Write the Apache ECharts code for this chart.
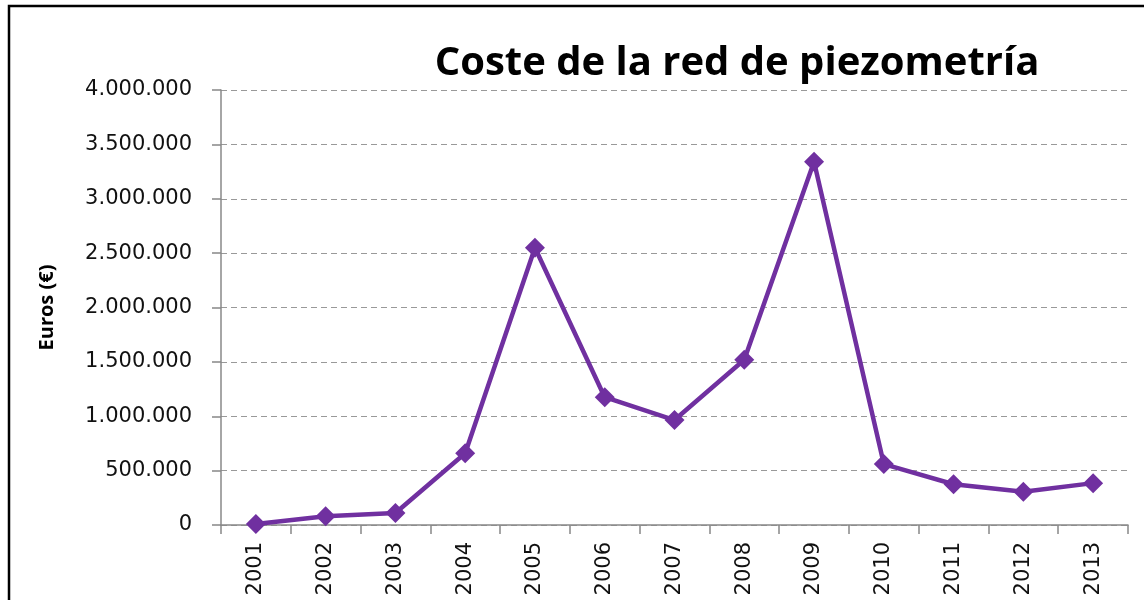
<!DOCTYPE html>
<html>
<head>
<meta charset="utf-8">
<script src="https://cdn.jsdelivr.net/npm/echarts@6/dist/echarts.min.js"></script>
<style>
  html, body { margin: 0; padding: 0; background: #fff; }
  #chart { width: 1144px; height: 600px; }
</style>
</head>
<body>
<div id="chart"></div>
<script>
// años y coste anual (euros)
const years = ['2001', '2002', '2003', '2004', '2005', '2006', '2007', '2008', '2009', '2010', '2011', '2012', '2013'];
const coste = [10000, 80000, 110000, 660000, 2550000, 1175000, 965000, 1520000, 3340000, 560000, 375000, 305000, 385000];

function puntos(v) {
  return String(v).replace(/\B(?=(\d{3})+(?!\d))/g, '.');
}

const chart = echarts.init(document.getElementById('chart'));

const option = {
  animation: false,
  title: {
    text: 'Coste de la red de piezometría',
    left: 732,
    textAlign: 'center',
    top: 39,
    textStyle: {
      fontFamily: 'Open Sans',
      fontWeight: 'bold',
      fontSize: 40,
      color: '#000'
    }
  },
  graphic: [
    {
      type: 'rect',
      shape: { x: 9, y: 6, width: 1200, height: 700 },
      style: { fill: 'none', stroke: '#000', lineWidth: 2.5 },
      silent: true
    }
  ],
  grid: {
    left: 221,
    right: 16,
    top: 90,
    bottom: 75
  },
  xAxis: {
    type: 'category',
    data: years,
    boundaryGap: true,
    axisLine: { lineStyle: { color: '#888', width: 1.5 } },
    axisTick: { show: true, length: 9, lineStyle: { color: '#888', width: 1.5 } },
    axisLabel: {
      rotate: 90,
      margin: 17,
      fontFamily: 'DejaVu Sans',
      fontSize: 21,
      color: '#111'
    },
    splitLine: { show: false }
  },
  yAxis: {
    type: 'value',
    min: 0,
    max: 4000000,
    interval: 500000,
    name: 'Euros (€)',
    nameLocation: 'middle',
    nameRotate: 90,
    nameGap: 164,
    nameTextStyle: {
      fontFamily: 'Open Sans',
      fontWeight: 'bold',
      fontSize: 20,
      color: '#000'
    },
    axisLine: { show: true, lineStyle: { color: '#888', width: 1.5 } },
    axisTick: { show: true, inside: false, length: 9, lineStyle: { color: '#888', width: 1.5 } },
    axisLabel: {
      margin: 29,
      fontFamily: 'DejaVu Sans',
      fontSize: 21,
      color: '#111',
      formatter: v => puntos(v)
    },
    splitLine: {
      show: true,
      lineStyle: { color: '#999', type: [6, 4], width: 1.2 }
    }
  },
  series: [
    {
      name: 'Coste',
      type: 'line',
      data: coste,
      symbol: 'diamond',
      symbolSize: 20,
      lineStyle: { color: '#7030A0', width: 4.5 },
      itemStyle: { color: '#7030A0' }
    }
  ]
};

chart.setOption(option);
</script>
</body>
</html>
